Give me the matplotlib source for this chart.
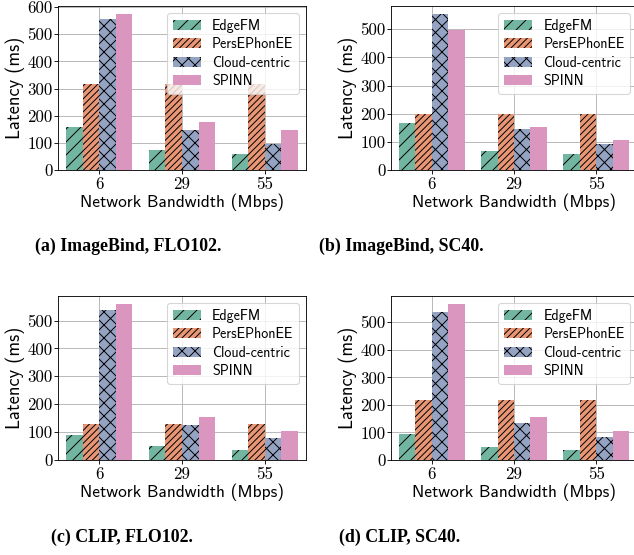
import colorsys
import matplotlib
matplotlib.use("Agg")
import matplotlib.pyplot as plt
import matplotlib.colors as mcolors
import numpy as np

bandwidths = ["6", "29", "55"]
methods = ["EdgeFM", "PersEPhonEE", "Cloud-centric", "SPINN"]

a_edgefm = [158, 74, 59]
a_pers = [316, 316, 316]
a_cloud = [557, 147, 96]
a_spinn = [575, 177, 147]

b_edgefm = [167, 66, 58]
b_pers = [199, 199, 199]
b_cloud = [555, 144, 94]
b_spinn = [499, 152, 108]

c_edgefm = [90, 51, 36]
c_pers = [130, 130, 130]
c_cloud = [538, 127, 80]
c_spinn = [560, 155, 105]

d_edgefm = [95, 48, 37]
d_pers = [216, 216, 216]
d_cloud = [537, 135, 84]
d_spinn = [567, 157, 106]

captions = ["(a) ImageBind, FLO102.", "(b) ImageBind, SC40.",
            "(c) CLIP, FLO102.", "(d) CLIP, SC40."]

base_colors = ["#66c2a5", "#fc8d62", "#8da0cb", "#e78ac3"]
hatches = ["//", "////", "xx", ""]


def desat(c, prop=0.75):
    r, g, b = mcolors.to_rgb(c)
    h, l, s = colorsys.rgb_to_hls(r, g, b)
    return colorsys.hls_to_rgb(h, l, s * prop)


colors = [desat(c) for c in base_colors]

DPI = 78
fig = plt.figure(figsize=(634 / DPI, 555 / DPI), dpi=DPI)
plt.rcParams["hatch.linewidth"] = 0.9

W = 634.0
H = 555.0
panels = [
    ([a_edgefm, a_pers, a_cloud, a_spinn], (58, 6, 248, 164)),
    ([b_edgefm, b_pers, b_cloud, b_spinn], (390.7, 6, 246.6, 164)),
    ([c_edgefm, c_pers, c_cloud, c_spinn], (58, 296, 248, 164)),
    ([d_edgefm, d_pers, d_cloud, d_spinn], (390.7, 296, 246.6, 164)),
]

x = np.arange(len(bandwidths))
bw = 0.2
for series, (lx, ty, w, h) in panels:
    ax = fig.add_axes([lx / W, 1 - (ty + h) / H, w / W, h / H])
    ax.set_axisbelow(True)
    ax.grid(True, color="#b0b0b0", linewidth=0.8)
    for i, (vals, col, hat, name) in enumerate(zip(series, colors, hatches, methods)):
        ax.bar(x + (i - 1.5) * bw, vals, bw, color=col, hatch=hat,
               edgecolor="black", linewidth=0, label=name)
    ax.set_xlim(-0.5, 2.5)
    ax.set_xticks(x)
    ax.set_xticklabels(bandwidths)
    ax.yaxis.set_major_locator(matplotlib.ticker.MultipleLocator(100))
    for lbl in ax.get_xticklabels() + ax.get_yticklabels():
        lbl.set_fontfamily("cmr10")
        lbl.set_fontsize(15.5)
    ax.tick_params(axis="x", pad=2.5)
    ax.tick_params(axis="y", pad=1.5)
    ax.set_xlabel("Network Bandwidth (Mbps)", fontfamily="cmss10", fontsize=16, labelpad=2)
    ax.set_ylabel("Latency (ms)", fontfamily="cmss10", fontsize=17, labelpad=2)
    ax.legend(loc="upper right", prop={"family": "cmss10", "size": 13},
              handlelength=2.0, labelspacing=0.32)

cap_pos = [(128, 246), (401, 246), (122, 537), (400, 537)]
for txt, (cx, cy) in zip(captions, cap_pos):
    fig.text(cx / W, 1 - cy / H, txt, ha="center", va="center",
             fontfamily="Liberation Serif", fontweight="bold", fontsize=16.5)

fig.savefig("out.png", dpi=DPI)
